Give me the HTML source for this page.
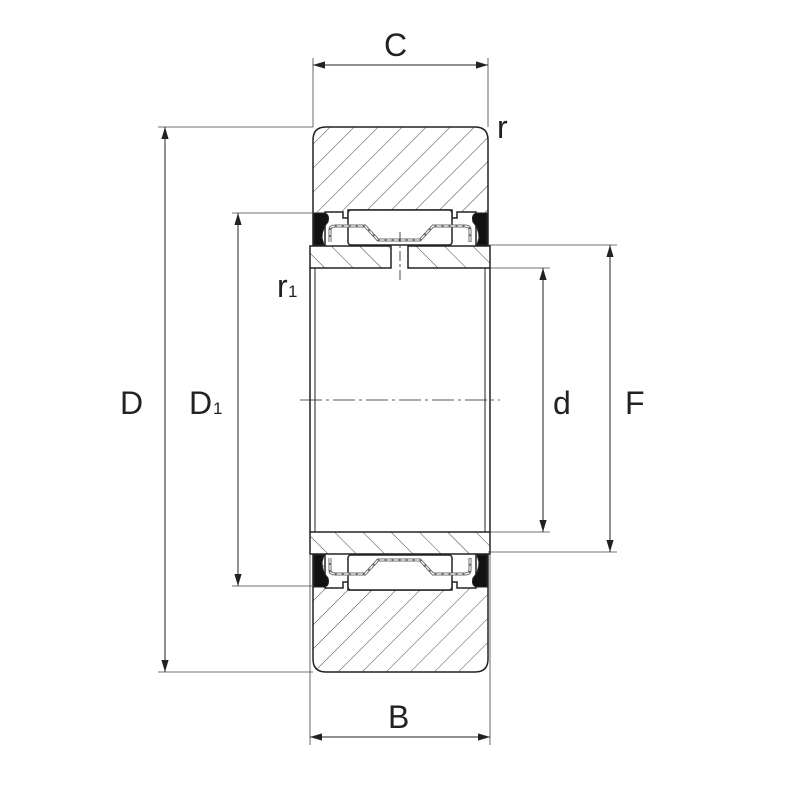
<!DOCTYPE html>
<html><head><style>body{margin:0;background:#fff}svg{display:block}text{font-family:"Liberation Sans","DejaVu Sans",sans-serif;fill:#222}</style></head>
<body>
<svg width="800" height="800" viewBox="0 0 800 800" xmlns="http://www.w3.org/2000/svg">
<defs>
<pattern id="h1" patternUnits="userSpaceOnUse" width="17" height="17" patternTransform="rotate(45)">
<line x1="0" y1="0" x2="0" y2="17" stroke="#333" stroke-width="0.9"/></pattern>
<pattern id="h2" patternUnits="userSpaceOnUse" width="20" height="20" patternTransform="rotate(-45)">
<line x1="0" y1="0" x2="0" y2="20" stroke="#333" stroke-width="0.9"/></pattern>
<marker id="a" viewBox="0 0 10 10" refX="10" refY="5" markerWidth="12" markerHeight="12" markerUnits="userSpaceOnUse" orient="auto-start-reverse"><path d="M0,2 L10,5 L0,8 z" fill="#222"/></marker>
</defs>
<g stroke="#222" stroke-width="1" fill="none">
<path d="M313,245 V140 Q313,127 326,127 H475 Q488,127 488,140 V245 H476 V212 H457 V218 H452 V210 H348 V218 H343 V212 H325 V245 Z" fill="url(#h1)" stroke-width="1.5"/>
<path d="M313,555 V659 Q313,672 326,672 H475 Q488,672 488,659 V555 H476 V588 H457 V582 H452 V590 H348 V582 H343 V588 H325 V555 Z" fill="url(#h1)" stroke-width="1.5"/>
<rect x="348" y="210" width="104" height="35" rx="3" fill="#fff" stroke-width="1.5"/>
<rect x="348" y="555" width="104" height="35" rx="3" fill="#fff" stroke-width="1.5"/>
<path d="M330,242 V230 Q330,226 335,226 H365 L378,240 H420 L433,226 H465 Q470,226 470,230 V242" stroke="#666" stroke-width="3"/>
<path d="M330,242 V230 Q330,226 335,226 H365 L378,240 H420 L433,226 H465 Q470,226 470,230 V242" stroke="#fff" stroke-width="1.2" stroke-dasharray="5,2"/>
<path d="M330,558 V570 Q330,574 335,574 H365 L378,560 H420 L433,574 H465 Q470,574 470,570 V558" stroke="#666" stroke-width="3"/>
<path d="M330,558 V570 Q330,574 335,574 H365 L378,560 H420 L433,574 H465 Q470,574 470,570 V558" stroke="#fff" stroke-width="1.2" stroke-dasharray="5,2"/>
<path d="M314,213 H324 Q330,214 328,222 Q322,228 322,238 L324,245 H314 Z" fill="#111"/>
<path d="M487,213 H477 Q471,214 473,222 Q479,228 479,238 L477,245 H487 Z" fill="#111"/>
<path d="M314,587 H324 Q330,586 328,578 Q322,572 322,562 L324,555 H314 Z" fill="#111"/>
<path d="M487,587 H477 Q471,586 473,578 Q479,572 479,562 L477,555 H487 Z" fill="#111"/>
<path d="M310,246 H391 V268 H310 Z" fill="url(#h2)" stroke-width="1.5"/>
<path d="M408,246 H490 V268 H408 Z" fill="url(#h2)" stroke-width="1.5"/>
<path d="M310,532 H490 V554 H310 Z" fill="url(#h2)" stroke-width="1.5"/>
<line x1="310" y1="268" x2="310" y2="532" stroke-width="1.5"/>
<line x1="315" y1="268" x2="315" y2="532"/>
<line x1="490" y1="268" x2="490" y2="532" stroke-width="1.5"/>
<line x1="485" y1="268" x2="485" y2="532"/>
<line x1="300" y1="400" x2="500" y2="400" stroke-dasharray="22,4,3,4" stroke-width="0.8"/>
<line x1="400" y1="232" x2="400" y2="280" stroke-dasharray="10,3,3,3" stroke-width="0.8"/>
<g stroke-width="0.8" stroke="#444">
<line x1="313" y1="58" x2="313" y2="127"/><line x1="488" y1="58" x2="488" y2="127"/>
<line x1="158" y1="127" x2="313" y2="127"/><line x1="158" y1="672" x2="313" y2="672"/>
<line x1="232" y1="213" x2="314" y2="213"/><line x1="232" y1="586" x2="314" y2="586"/>
<line x1="490" y1="268" x2="550" y2="268"/><line x1="490" y1="532" x2="550" y2="532"/>
<line x1="488" y1="245" x2="617" y2="245"/><line x1="488" y1="552" x2="617" y2="552"/>
<line x1="310" y1="555" x2="310" y2="745"/><line x1="490" y1="555" x2="490" y2="745"/>
</g>
<g stroke-width="1" marker-start="url(#a)" marker-end="url(#a)">
<line x1="313" y1="65" x2="488" y2="65"/>
<line x1="165" y1="127" x2="165" y2="672"/>
<line x1="238" y1="213" x2="238" y2="586"/>
<line x1="543" y1="268" x2="543" y2="532"/>
<line x1="610" y1="245" x2="610" y2="552"/>
<line x1="310" y1="737" x2="490" y2="737"/>
</g>
</g>
<g font-size="32">
<text x="384" y="56">C</text>
<text x="120" y="414">D</text>
<text x="189" y="414">D</text><text x="213" y="414" font-size="17">1</text>
<text x="553" y="414">d</text>
<text x="625" y="414">F</text>
<text x="388" y="728">B</text>
<text x="497" y="138">r</text>
<text x="277" y="297">r</text><text x="288" y="297" font-size="17">1</text>
</g>
</svg>
</body></html>
